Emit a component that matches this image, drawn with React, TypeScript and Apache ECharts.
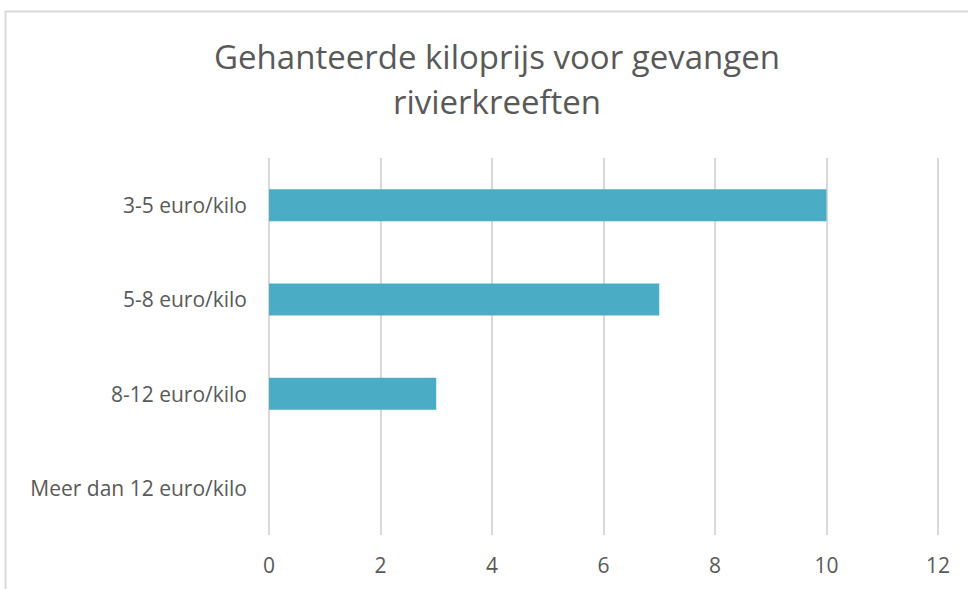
import React, { useEffect, useRef } from "react";
import * as echarts from "echarts";

const categories = ["3-5 euro/kilo", "5-8 euro/kilo", "8-12 euro/kilo", "Meer dan 12 euro/kilo"];
const values = [10, 7, 3, 0];
const titleText = "Gehanteerde kiloprijs voor gevangen\nrivierkreeften";

export default function App() {
  const ref = useRef<HTMLDivElement>(null);
  useEffect(() => {
    if (!ref.current) return;
    const chart = echarts.init(ref.current, undefined, { renderer: "svg" });
    const font = "'Open Sans', sans-serif";
    chart.setOption({
      animation: false,
      backgroundColor: "#ffffff",
      title: {
        text: titleText,
        left: 492,
        top: 29,
        textAlign: "center",
        textStyle: {
          color: "#595959",
          fontSize: 33,
          fontWeight: "normal",
          fontFamily: font,
          lineHeight: 45,
        },
      },
      graphic: [
        {
          type: "rect",
          shape: { x: 5.5, y: 11.5, width: 1100, height: 1100 },
          style: { fill: "none", stroke: "#d9d9d9", lineWidth: 2 },
          silent: true,
        },
      ],
      grid: { left: 269, right: 30, top: 158, bottom: 54, containLabel: false },
      xAxis: {
        type: "value",
        min: 0,
        max: 12,
        interval: 2,
        axisLine: { show: false },
        axisTick: { show: false },
        splitLine: { show: true, lineStyle: { color: "#d9d9d9", width: 2 } },
        axisLabel: { color: "#595959", fontSize: 21, fontFamily: font, margin: 19 },
      },
      yAxis: {
        type: "category",
        inverse: true,
        data: categories,
        axisLine: { show: false },
        axisTick: { show: false },
        splitLine: { show: false },
        axisLabel: { color: "#595959", fontSize: 21, fontFamily: font, margin: 22 },
      },
      series: [
        {
          type: "bar",
          data: values,
          barWidth: 32,
          itemStyle: { color: "#4BACC6" },
        },
      ],
    });
    return () => chart.dispose();
  }, []);
  return (
    <div
      ref={ref}
      style={{ position: "fixed", left: 0, top: 0, width: 968, height: 589 }}
    />
  );
}
